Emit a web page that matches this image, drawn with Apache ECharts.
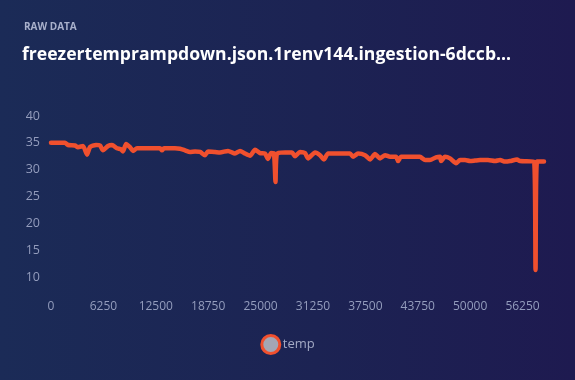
<!DOCTYPE html>
<html>
<head>
<meta charset="utf-8">
<script src="https://cdn.jsdelivr.net/npm/echarts@6/dist/echarts.min.js"></script>
<style>
html,body{margin:0;padding:0;width:575px;height:380px;overflow:hidden;}
body{background:linear-gradient(90deg,#1b2b57 0%,#1c2353 55%,#1e1a50 100%);}
#c{width:575px;height:380px;}
</style>
</head>
<body>
<div id="c"></div>
<script>
const supTitle = 'RAW DATA';
const mainTitle = 'freezertemprampdown.json.1renv144.ingestion-6dccb...';
const seriesName = 'temp';
const xTicks = [0, 6250, 12500, 18750, 25000, 31250, 37500, 43750, 50000, 56250];
const yTicks = [10, 15, 20, 25, 30, 35, 40];
const times = [0,1670,2030,2860,3220,3820,4300,4650,5370,5850,6200,6800,7280,7870,8350,8590,8950,9420,9780,10260,11810,13000,13240,13480,14790,15390,15990,16580,17180,17780,18370,18730,19560,20160,21120,21950,22550,23140,23740,24340,24930,25530,25890,26250,26600,26780,26960,27920,28750,29110,29700,30300,30660,31500,32090,32570,33050,34480,35670,36030,36620,37460,38060,38650,39250,39850,40440,41160,41400,41760,42830,44020,44620,45210,45930,46410,46530,47000,47600,48320,48790,49390,49990,50580,51180,52130,52970,53570,54160,54760,55590,55950,57620,57800,57980,58810];
const temps = [35.0,35.0,34.6,34.5,34.2,34.4,32.8,34.2,34.6,34.5,33.6,34.4,34.6,34.0,33.8,33.4,34.8,34.2,33.5,34.0,34.0,34.0,33.6,34.0,34.0,33.9,33.6,33.3,33.4,33.3,32.7,33.4,33.3,33.2,33.5,33.0,33.5,33.0,32.6,33.7,33.1,33.0,32.0,33.1,33.0,27.7,33.0,33.2,33.2,32.5,33.3,33.1,32.1,33.2,32.7,31.9,33.0,33.0,33.0,32.4,33.0,32.7,31.9,32.9,32.1,32.7,32.4,32.4,31.6,32.4,32.4,32.4,31.8,31.8,32.3,32.4,31.6,32.4,32.1,31.2,31.8,31.8,31.6,31.7,31.8,31.8,31.6,31.8,31.5,31.6,31.9,31.6,31.5,11.3,31.5,31.5];

const data = times.map((t, i) => [t, temps[i]]);
const chart = echarts.init(document.getElementById('c'), null, {renderer: 'canvas'});
const font = '"Open Sans", "Noto Sans", sans-serif';
chart.setOption({
  backgroundColor: 'transparent',
  title: [
    {text: supTitle, left: 19, top: 17, textStyle: {fontFamily: font, fontSize: 10, fontWeight: 'bold', color: '#a9b1cc'}},
    {text: mainTitle, left: 17, top: 41, textStyle: {fontFamily: font, fontSize: 17.6, fontWeight: 'bold', color: '#ffffff'}}
  ],
  grid: {left: 51, right: 31, top: 116, bottom: 103},
  legend: {
    bottom: 20, left: 'center', icon: 'circle', itemWidth: 18, itemHeight: 18, itemGap: 10,
    data: [{name: seriesName, itemStyle: {color: '#a3a6b4', borderColor: '#f0502e', borderWidth: 3}}],
    textStyle: {fontFamily: font, fontSize: 13, color: '#a3a9c4', padding: [0, 0, 0, -2]}
  },
  xAxis: {
    type: 'value', min: xTicks[0], max: times[times.length - 1], interval: xTicks[1] - xTicks[0],
    axisLine: {show: false}, axisTick: {show: false}, splitLine: {show: false},
    axisLabel: {showMaxLabel: false, margin: 24, fontFamily: font, fontSize: 12, color: '#949dbd',
      formatter: v => String(v)}
  },
  yAxis: {
    type: 'value', min: yTicks[0], max: yTicks[yTicks.length - 1], interval: yTicks[1] - yTicks[0],
    axisLine: {show: false}, axisTick: {show: false}, splitLine: {show: false},
    axisLabel: {margin: 11, fontFamily: font, fontSize: 12.5, color: '#949dbd'}
  },
  series: [{
    name: seriesName, type: 'line', data: data, showSymbol: false, symbol: 'none',
    itemStyle: {color: '#f0502e'},
    lineStyle: {color: '#f0502e', width: 4.5, join: 'round', cap: 'round'},
    smooth: 0.2, animation: false
  }],
  animation: false
});
</script>
</body>
</html>
